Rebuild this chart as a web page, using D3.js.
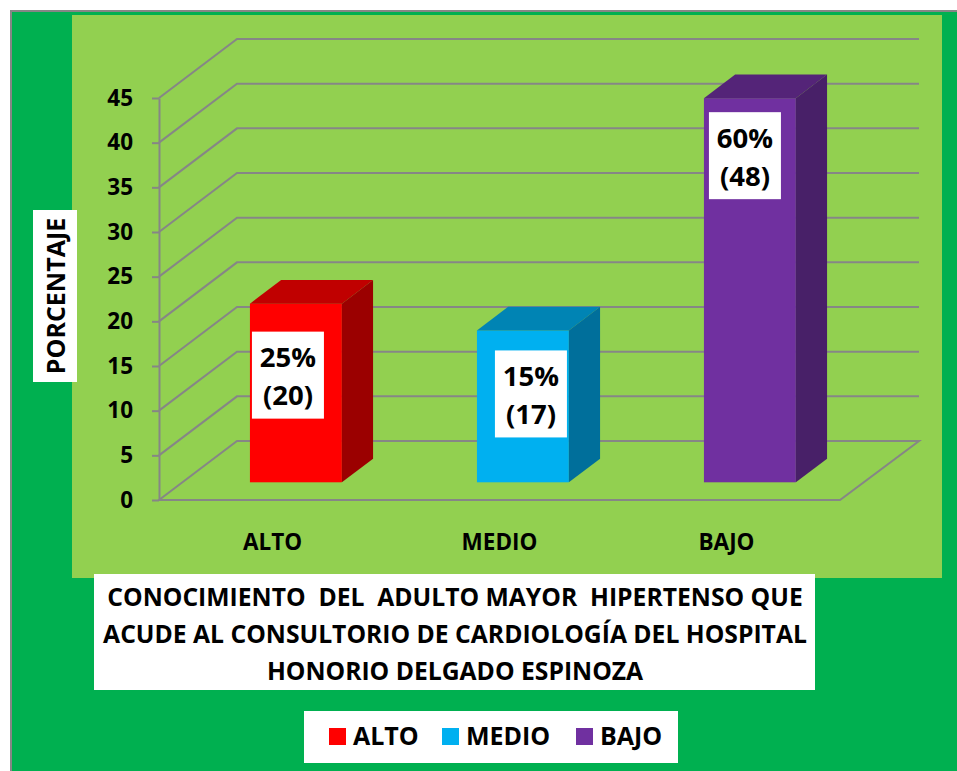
<!DOCTYPE html>
<html>
<head>
<meta charset="utf-8">
<script src="https://cdn.jsdelivr.net/npm/d3@7"></script>
<style>
html, body { margin: 0; padding: 0; background: #fff; }
svg { display: block; }
text { font-family: "Open Sans", Lato, sans-serif; font-weight: 700; fill: #000; }
.axis path, .axis line { stroke: #868686; stroke-width: 2; }
.grid { fill: none; stroke: #868686; stroke-width: 2; }
</style>
</head>
<body>
<script>
// Values.
var categories = ['ALTO', 'MEDIO', 'BAJO'];
var barValues = [20, 17, 43];
var percentLabels = ['25%', '15%', '60%'];
var countLabels = ['(20)', '(17)', '(48)'];
var yTicks = [0, 5, 10, 15, 20, 25, 30, 35, 40, 45];
var titleLines = [
    'CONOCIMIENTO  DEL  ADULTO MAYOR  HIPERTENSO QUE',
    'ACUDE AL CONSULTORIO DE CARDIOLOGÍA DEL HOSPITAL',
    'HONORIO DELGADO ESPINOZA'
];
var yAxisTitle = 'PORCENTAJE';
var frontColors = ['#ff0000', '#00b0f0', '#7030a0'];
var topColors = ['#c00000', '#0084b4', '#542478'];
var sideColors = ['#9b0000', '#006f9b', '#482068'];

var width = 957,
    height = 771,
    depthX = 78,
    depthY = 59,
    barStart = 0.3,   // where a bar's front face sits in the floor depth
    barDepth = 0.4;

// White label boxes were placed by hand in the original, so each has its own offset.
var labelDx = [2, 18, 5],
    labelDy = [28, 20, 14];

var svg = d3.select('body').append('svg')
    .attr('width', width)
    .attr('height', height);

function box(x, y, w, h, fill) {
    return svg.append('rect')
        .attr('x', x).attr('y', y)
        .attr('width', w).attr('height', h)
        .attr('fill', fill);
}

// Page, frame and plot panel
box(10, 10, 947, 761, '#868686');
box(12, 12, 945, 759, '#00b050');
box(72, 15, 870, 563, '#92d050');

var ys = d3.scaleLinear().domain([0, 45]).range([500, 98]);
var xs = d3.scaleBand().domain(categories).range([159, 840])
    .paddingInner(0.595).paddingOuter(0.2975);

// Walls and floor
var grid = svg.append('g');
yTicks.slice(1).forEach(function(v) {
    grid.append('path')
        .classed('grid', true)
        .attr('d', d3.line()([
            [159, ys(v)],
            [159 + depthX, ys(v) - depthY],
            [840 + depthX + 1, ys(v) - depthY]
        ]));
});
grid.append('path')
    .classed('grid', true)
    .attr('d', d3.line()([
        [159, ys(0)],
        [159 + depthX, ys(0) - depthY],
        [840 + depthX + 1, ys(0) - depthY],
        [840, ys(0)]
    ]) + 'Z');

var yAxis = svg.append('g')
    .classed('axis', true)
    .attr('transform', 'translate(159,0)')
    .call(d3.axisLeft(ys).tickValues(yTicks).tickSize(7).tickPadding(19).tickSizeOuter(0));
yAxis.selectAll('text')
    .style('font-size', '22.5px');

// Bars
var bars = svg.append('g').selectAll('g')
    .data(categories)
    .enter()
    .append('g');

function barFront(i) {
    var x0 = xs(categories[i]) + depthX * barStart,
        bottom = ys(0) - depthY * barStart;
    return {
        x0: x0,
        x1: x0 + xs.bandwidth(),
        bottom: bottom,
        top: bottom - (ys(0) - ys(barValues[i])),
        dx: depthX * barDepth,
        dy: depthY * barDepth
    };
}

bars.append('rect')
    .attr('x', function(d, i) { return barFront(i).x0; })
    .attr('y', function(d, i) { return barFront(i).top; })
    .attr('width', xs.bandwidth())
    .attr('height', function(d, i) { return barFront(i).bottom - barFront(i).top; })
    .attr('fill', function(d, i) { return frontColors[i]; });

bars.append('path')
    .attr('fill', function(d, i) { return topColors[i]; })
    .attr('d', function(d, i) {
        var b = barFront(i);
        return d3.line()([[b.x0, b.top], [b.x0 + b.dx, b.top - b.dy], [b.x1 + b.dx, b.top - b.dy], [b.x1, b.top]]) + 'Z';
    });

bars.append('path')
    .attr('fill', function(d, i) { return sideColors[i]; })
    .attr('d', function(d, i) {
        var b = barFront(i);
        return d3.line()([[b.x1, b.top], [b.x1 + b.dx, b.top - b.dy], [b.x1 + b.dx, b.bottom - b.dy], [b.x1, b.bottom]]) + 'Z';
    });

// Data labels, white boxes on the bars
var labelW = 72,
    labelH = 87;
bars.append('rect')
    .attr('x', function(d, i) { return barFront(i).x0 + labelDx[i]; })
    .attr('y', function(d, i) { return barFront(i).top + labelDy[i]; })
    .attr('width', labelW)
    .attr('height', labelH)
    .attr('fill', '#fff');
bars.append('text')
    .attr('text-anchor', 'middle')
    .attr('x', function(d, i) { return barFront(i).x0 + labelDx[i] + labelW / 2; })
    .attr('y', function(d, i) { return barFront(i).top + labelDy[i] + 35.5; })
    .style('font-size', '27.5px')
    .text(function(d, i) { return percentLabels[i]; });
bars.append('text')
    .attr('text-anchor', 'middle')
    .attr('x', function(d, i) { return barFront(i).x0 + labelDx[i] + labelW / 2; })
    .attr('y', function(d, i) { return barFront(i).top + labelDy[i] + 73.5; })
    .style('font-size', '27.5px')
    .text(function(d, i) { return countLabels[i]; });

// Category labels
svg.append('g').selectAll('text')
    .data(categories)
    .enter()
    .append('text')
    .attr('text-anchor', 'middle')
    .attr('x', function(d) { return xs(d) + xs.bandwidth() / 2; })
    .attr('y', 550)
    .style('font-size', '22.5px')
    .text(function(d) { return d; });

// Y axis title
box(33, 210, 44, 172, '#fff');
svg.append('text')
    .attr('text-anchor', 'middle')
    .attr('transform', 'translate(65,296) rotate(-90)')
    .style('font-size', '25px')
    .text(yAxisTitle);

// Chart title
box(94, 574, 721, 116, '#fff');
svg.append('g').selectAll('text')
    .data(titleLines)
    .enter()
    .append('text')
    .attr('text-anchor', 'middle')
    .attr('x', 455)
    .attr('y', function(d, i) { return 606 + i * 37; })
    .style('font-size', '24.7px')
    .style('white-space', 'pre')
    .text(function(d) { return d; });

// Legend
box(304, 711, 374, 52, '#fff');
var legendX = [329, 442, 576];
var legend = svg.append('g').selectAll('g')
    .data(categories)
    .enter()
    .append('g')
    .attr('transform', function(d, i) { return 'translate(' + legendX[i] + ',728)'; });
legend.append('rect')
    .attr('width', 17)
    .attr('height', 17)
    .attr('fill', function(d, i) { return frontColors[i]; });
legend.append('text')
    .attr('x', 24)
    .attr('y', 17)
    .style('font-size', '25px')
    .text(function(d) { return d; });
</script>
</body>
</html>
